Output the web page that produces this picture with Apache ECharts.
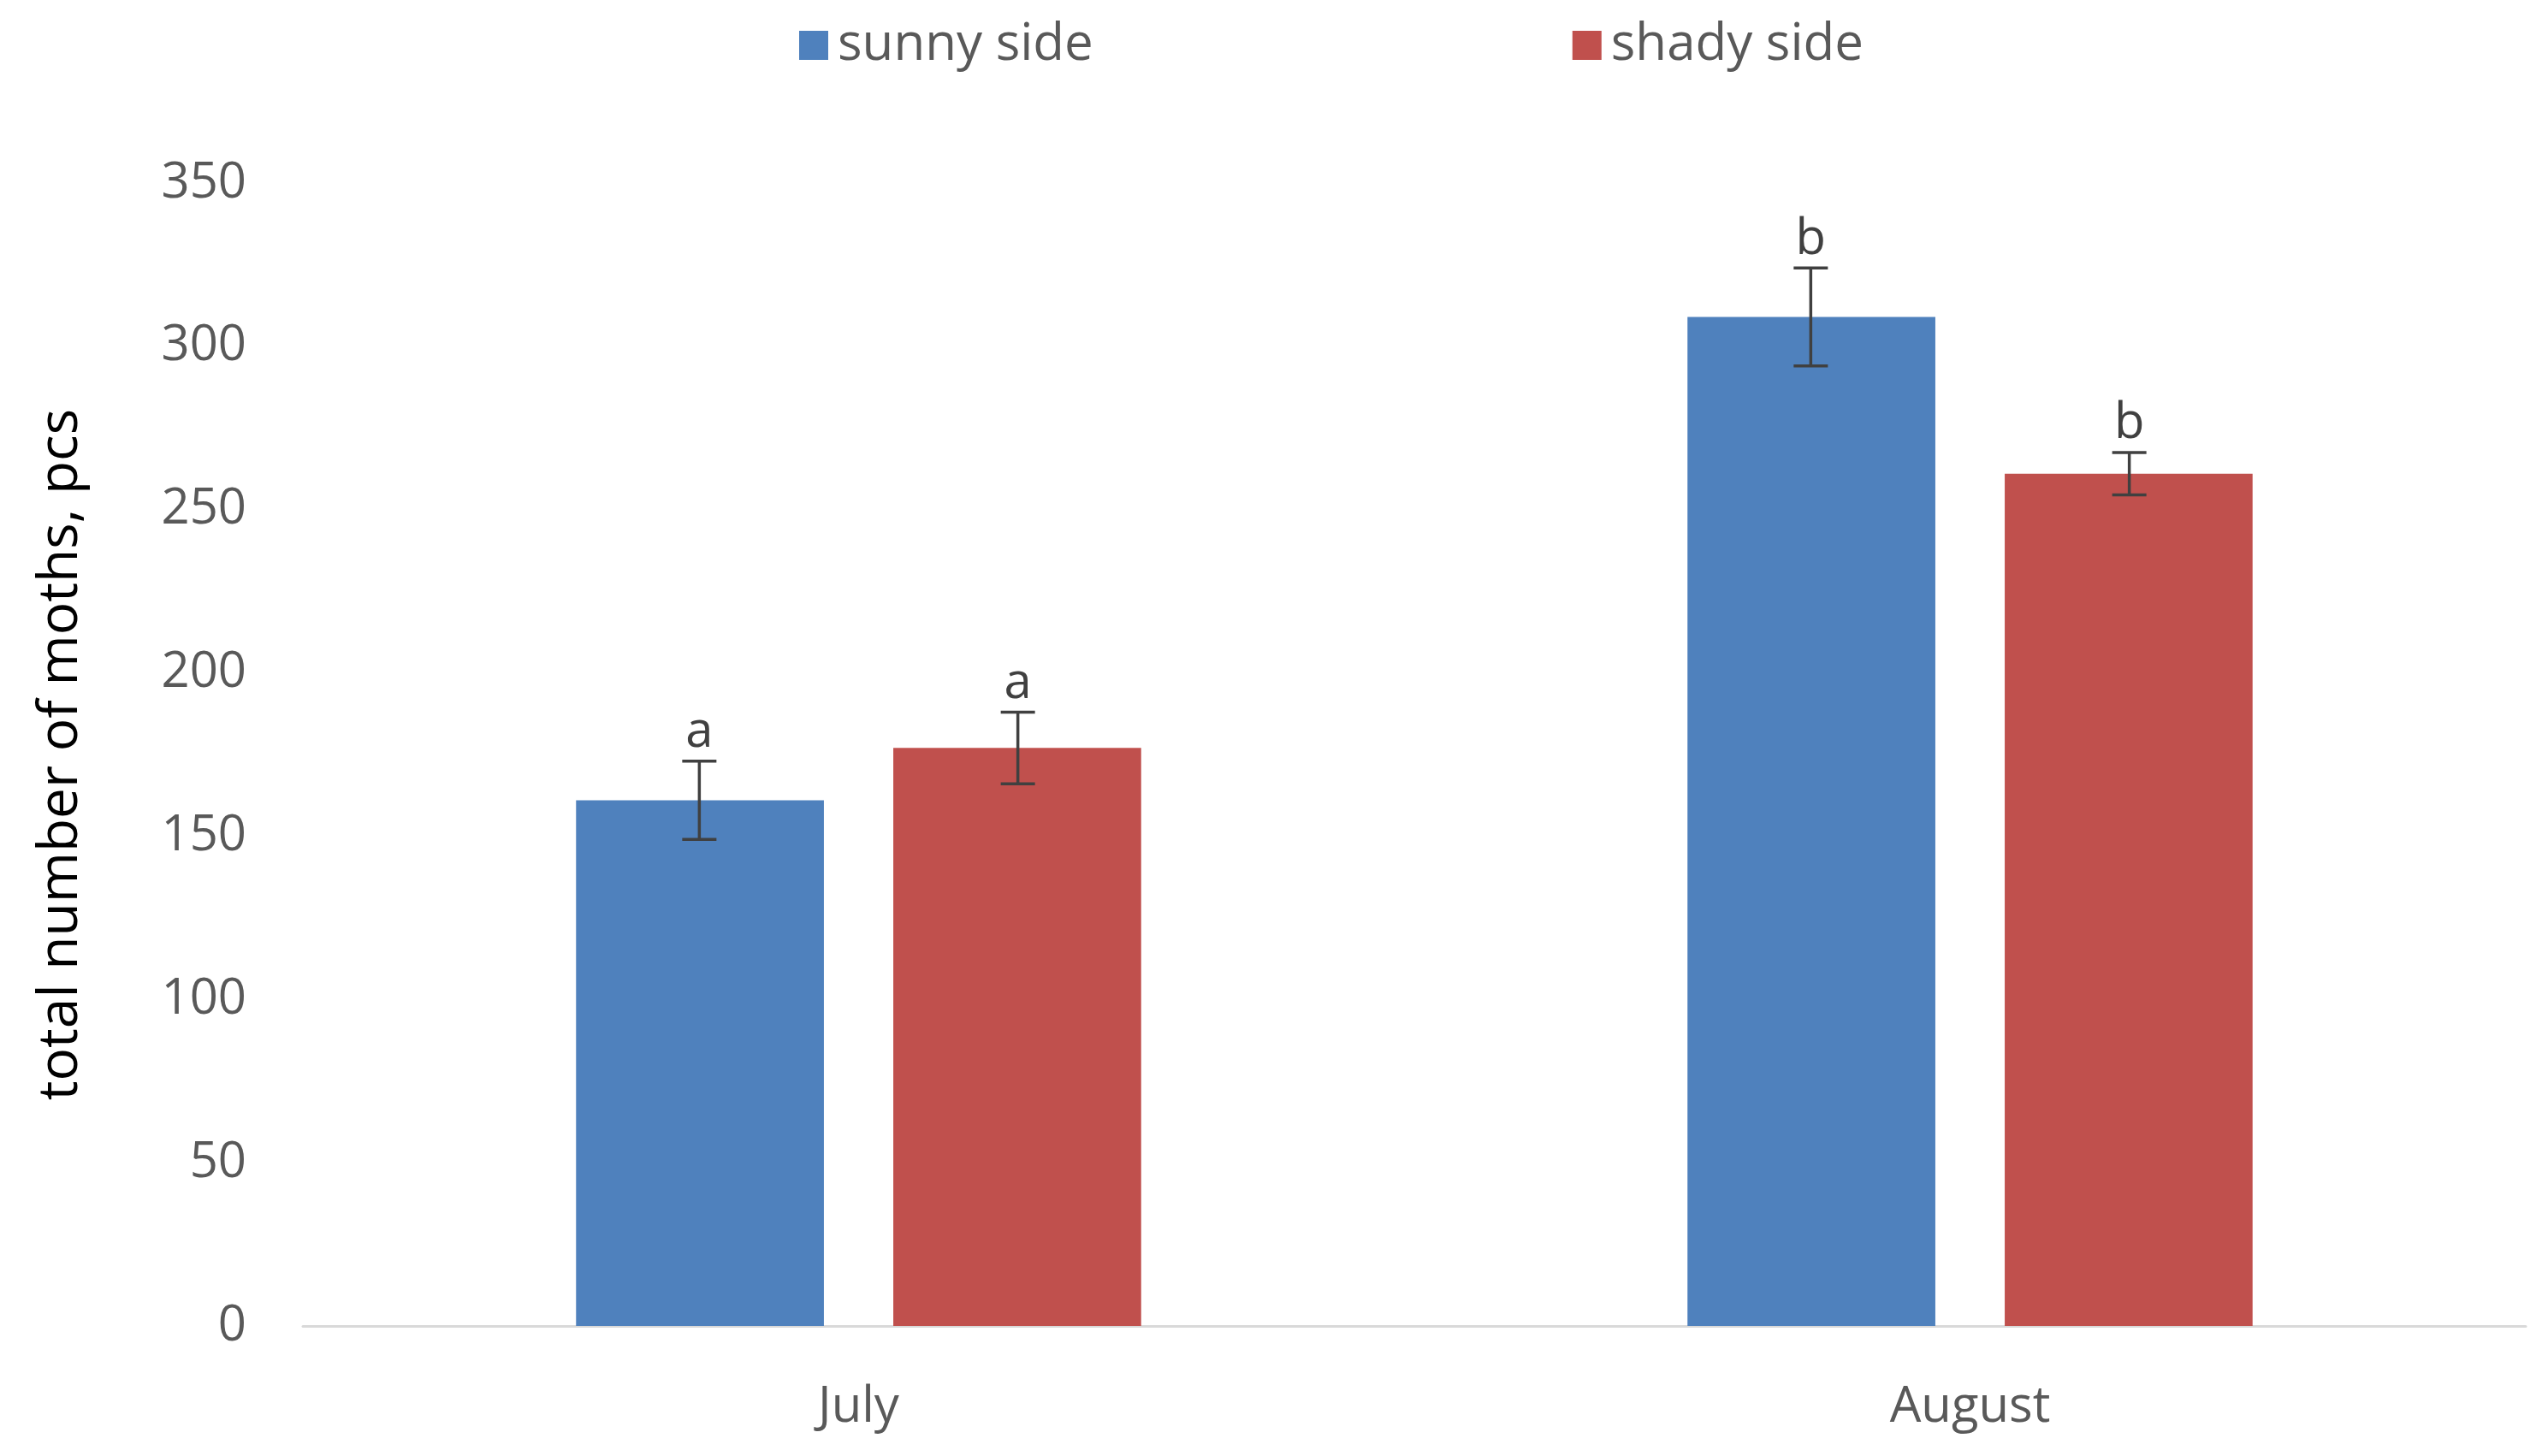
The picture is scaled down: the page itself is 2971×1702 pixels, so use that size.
<!DOCTYPE html>
<html>
<head>
<meta charset="UTF-8">
<script src="https://cdn.jsdelivr.net/npm/echarts@6/dist/echarts.min.js"></script>
<style>html,body{margin:0;background:#fff}#c{width:2971px;height:1702px}</style>
</head>
<body>
<div id="c"></div>
<script>
const months = ['July', 'August'];
const sunny = [161, 309];
const shady = [177, 261];
const sunnyErr = [12, 15];
const shadyErr = [11, 6.5];
const sunnyLetters = ['a', 'b'];
const shadyLetters = ['a', 'b'];

const chart = echarts.init(document.getElementById('c'));
const font = 'Open Sans';

function errSeries(vals, errs, letters, side) {
    return {
        type: 'custom',
        z: 10,
        data: vals.map((v, i) => [i, v, errs[i], letters[i]]),
        renderItem: function (params, api) {
            const bw = api.size([1, 0])[0];
            const x = api.coord([api.value(0), 0])[0] + side * 0.1433 * bw;
            const v = api.value(1), e = api.value(2);
            const top = api.coord([0, v + e])[1];
            const bot = api.coord([0, v - e])[1];
            const cap = 20;
            const st = { stroke: '#404040', lineWidth: 3.5 };
            return {
                type: 'group',
                children: [
                    { type: 'line', shape: { x1: x, y1: top, x2: x, y2: bot }, style: st },
                    { type: 'line', shape: { x1: x - cap, y1: top, x2: x + cap, y2: top }, style: st },
                    { type: 'line', shape: { x1: x - cap, y1: bot, x2: x + cap, y2: bot }, style: st },
                    { type: 'text', style: { x: x, y: top - 4, text: letters[params.dataIndex],
                        align: 'center', verticalAlign: 'bottom', fill: '#404040',
                        font: '58px "' + font + '"' } }
                ]
            };
        }
    };
}

chart.setOption({
    animation: false,
    textStyle: { fontFamily: font },
    legend: {
        top: 18, left: 929, itemGap: 560, itemWidth: 34, itemHeight: 34, icon: 'rect',
        textStyle: { fontSize: 60, color: '#595959', padding: [0, 0, 0, 6] },
        data: ['sunny side', 'shady side']
    },
    grid: { left: 354, right: 19, top: 214, bottom: 152 },
    xAxis: {
        type: 'category', data: months,
        axisLine: { lineStyle: { color: '#d9d9d9', width: 3 } },
        axisTick: { show: false },
        axisLabel: { fontSize: 58, color: '#595959', margin: 66 }
    },
    yAxis: {
        type: 'value', min: 0, max: 350, interval: 50,
        name: 'total number of moths, pcs', nameLocation: 'middle', nameGap: 250,
        nameTextStyle: { fontSize: 64, color: '#000' },
        splitLine: { show: false },
        axisLine: { show: false },
        axisLabel: { fontSize: 58, color: '#595959', margin: 66 }
    },
    series: [
        { name: 'sunny side', type: 'bar', data: sunny, barWidth: '22.3%', barGap: '28%',
          itemStyle: { color: '#4f81bd' } },
        { name: 'shady side', type: 'bar', data: shady, barWidth: '22.3%',
          itemStyle: { color: '#c0504d' } },
        errSeries(sunny, sunnyErr, sunnyLetters, -1),
        errSeries(shady, shadyErr, shadyLetters, 1)
    ]
});
</script>
</body>
</html>
